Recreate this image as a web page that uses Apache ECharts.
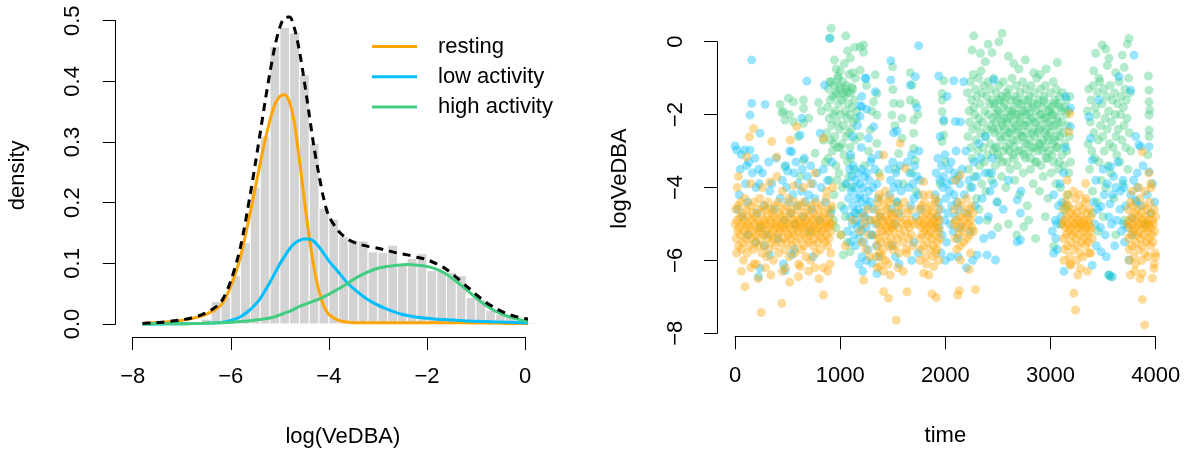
<!DOCTYPE html>
<html><head><meta charset="utf-8">
<script src="https://cdn.jsdelivr.net/npm/echarts@6/dist/echarts.min.js"></script>
<style>html,body{margin:0;padding:0;background:#fff}#c{width:1193px;height:450px}</style>
</head><body><div id="c"></div>
<script>
// ---------- left panel: histogram of log(VeDBA) ----------
const binWidth = 0.2;
const histStart = [-6.8,-6.6,-6.4,-6.2,-6.0,-5.8,-5.6,-5.4,-5.2,-5.0,-4.8,-4.6,-4.4,-4.2,-4.0,-3.8,-3.6,-3.4,-3.2,-3.0,-2.8,-2.6,-2.4,-2.2,-2.0,-1.8,-1.6,-1.4,-1.2,-1.0,-0.8,-0.6,-0.4,-0.2,0.0];
const histDensity = [0.003,0.008,0.037,0.045,0.080,0.134,0.226,0.310,0.458,0.489,0.480,0.411,0.298,0.191,0.173,0.144,0.138,0.137,0.119,0.118,0.130,0.100,0.108,0.116,0.088,0.087,0.085,0.080,0.044,0.040,0.023,0.016,0.012,0.006,0.002];

// density curves
const curveX = [-7.8,-7.6,-7.4,-7.2,-7.0,-6.8,-6.6,-6.4,-6.2,-6.0,-5.8,-5.6,
  -5.5,-5.4,-5.3,-5.2,-5.1,-5.0,-4.9,-4.8,-4.7,-4.6,-4.5,-4.4,-4.3,-4.2,-4.1,-4.0,
  -3.8,-3.6,-3.4,-3.2,-3.0,-2.8,-2.6,-2.4,-2.2,-2.0,-1.8,-1.6,-1.4,-1.2,-1.0,-0.8,-0.6,-0.4,-0.2,0.0,0.2,0.4,0.5];
const restingDens = [0.001,0.002,0.003,0.004,0.006,0.009,0.013,0.020,0.031,0.062,0.112,0.185,
  0.225,0.265,0.303,0.336,0.362,0.375,0.378,0.365,0.330,0.270,0.205,0.143,0.092,0.054,0.029,0.016,
  0.006,0.003,0.002,0.002,0.002,0.002,0.002,0.002,0.002,0.002,0.002,0.002,0.002,0.002,0.0015,0.0015,0.0015,0.001,0.001,0.001,0.001,0.001,0.001];
const lowDens = [0.0,0.0,0.0002,0.0003,0.0005,0.0007,0.001,0.0015,0.0025,0.006,0.012,0.024,
  0.032,0.042,0.055,0.069,0.084,0.099,0.112,0.124,0.133,0.138,0.140,0.140,0.136,0.127,0.116,0.104,
  0.085,0.066,0.052,0.040,0.031,0.024,0.018,0.014,0.011,0.0095,0.008,0.007,0.006,0.005,0.0045,0.004,0.0035,0.003,0.0025,0.002,0.0015,0.001,0.001];
const highDens = [0.0,0.0002,0.0003,0.0004,0.0005,0.0007,0.001,0.0015,0.002,0.003,0.004,0.0055,
  0.0065,0.0075,0.0085,0.010,0.012,0.015,0.018,0.021,0.025,0.029,0.032,0.035,0.038,0.041,0.045,0.049,
  0.058,0.068,0.078,0.086,0.092,0.095,0.097,0.098,0.097,0.095,0.090,0.082,0.070,0.057,0.043,0.031,0.021,0.014,0.009,0.0055,0.0035,0.002,0.0015];
const mixDens = [0.001,0.002,0.003,0.005,0.007,0.010,0.015,0.023,0.036,0.071,0.128,0.215,
  0.264,0.315,0.367,0.415,0.458,0.489,0.505,0.506,0.487,0.450,0.400,0.345,0.290,0.245,0.205,0.178,
  0.153,0.139,0.132,0.128,0.125,0.121,0.117,0.114,0.110,0.106,0.099,0.090,0.077,0.063,0.049,0.036,0.026,0.018,0.0125,0.009,0.006,0.004,0.0035];

const stateNames = ['resting','low activity','high activity'];

// ---------- right panel: logVeDBA over time, by state ----------
const restingPts = [
[0,-5.0],[5,-4.6],[10,-5.4],[15,-5.8],[20,-4.9],[25,-5.2],[30,-4.5],[35,-5.6],[40,-5.1],[45,-4.8],[50,-5.3],[55,-4.4],[60,-5.7],[65,-5.0],[70,-4.7],[75,-5.5],[80,-6.0],[85,-4.9],[90,-5.2],[95,-4.3],[100,-5.4],[105,-5.1],[110,-4.6],[115,-5.8],[120,-5.0],[125,-4.8],[130,-5.3],[135,-5.6],[140,-4.5],[145,-5.1],[150,-6.2],[155,-4.9],[160,-5.4],[165,-4.7],[170,-5.2],[175,-5.7],[180,-4.4],[185,-5.0],[190,-5.5],[195,-4.8],[200,-5.3],[205,-6.1],[210,-4.6],[215,-5.1],[220,-4.9],[225,-5.6],[230,-5.2],[235,-4.3],[240,-5.4],[245,-5.0],[250,-4.7],[255,-5.8],[260,-5.1],[265,-4.5],[270,-5.3],[275,-4.9],[280,-5.6],[285,-5.0],[290,-4.6],[295,-5.2],[300,-5.9],[305,-4.8],[310,-5.4],[315,-4.4],[320,-5.1],[325,-5.7],[330,-4.9],[335,-5.3],[340,-4.6],[345,-5.0],[350,-5.5],[355,-4.7],[360,-5.2],[365,-6.0],[370,-4.8],[375,-5.4],[380,-5.1],[385,-4.5],[390,-5.6],[395,-5.0],[400,-4.9],[405,-5.3],[410,-4.4],[415,-5.8],[420,-5.1],[425,-4.7],[430,-5.2],[435,-5.5],[440,-4.8],[445,-5.0],[450,-6.3],[455,-4.6],[460,-5.4],[465,-5.1],[470,-4.9],[475,-5.7],[480,-5.2],[485,-4.5],[490,-5.0],[495,-5.5],[500,-4.8],[505,-5.3],[510,-4.3],[515,-5.9],[520,-5.1],[525,-4.7],[530,-5.4],[535,-5.0],[540,-4.6],[545,-5.6],[550,-5.2],[555,-4.9],[560,-5.3],[565,-4.4],[570,-5.8],[575,-5.0],[580,-4.8],[585,-5.5],[590,-5.1],[595,-4.6],[600,-5.2],[605,-6.1],[610,-4.9],[615,-5.4],[620,-5.0],[625,-4.5],[630,-5.7],[635,-5.1],[640,-4.8],[645,-5.3],[650,-4.4],[655,-5.6],[660,-5.0],[665,-4.7],[670,-5.2],[675,-5.9],[680,-4.9],[685,-5.4],[690,-5.1],[695,-4.6],[700,-5.5],[705,-5.0],[710,-4.8],[715,-5.3],[720,-6.0],[725,-4.5],[730,-5.2],[735,-4.9],[740,-5.6],[745,-5.1],[750,-4.7],[755,-5.4],[760,-5.0],[765,-4.4],[770,-5.8],[775,-5.2],[780,-4.8],[785,-5.5],[790,-5.1],[795,-4.6],[800,-5.3],[805,-4.9],[810,-5.7],[815,-5.0],[820,-4.5],[825,-5.4],[830,-5.2],[835,-4.8],[840,-6.2],[845,-5.1],[850,-4.7],[855,-5.5],[860,-5.0],[865,-4.3],[870,-5.3],[875,-4.9],[880,-5.6],[885,-5.1],[890,-4.6],[895,-5.4],[900,-5.0],[905,-4.8],[910,-5.8],[915,-5.2],[920,-4.5],[925,-5.0],
[32,-3.7],[95,-6.72],[111,-3.16],[137,-2.61],[175,-2.38],[248,-7.43],[349,-2.74],[397,-3.16],[397,-3.7],[445,-7.18],[524,-2.7],[587,-2.33],[603,-6.45],[619,-6.17],[762,-3.6],[841,-2.65],[841,-6.95],
[60,-6.3],[180,-6.1],[220,-6.5],[290,-6.2],[340,-6.4],[480,-6.2],[520,-6.6],[700,-6.3],[760,-6.2],[800,-6.5],[880,-6.3],[905,-6.1],[20,-4.0],[150,-3.9],[260,-4.0],[330,-3.85],[450,-4.1],[560,-3.95],[650,-4.0],[720,-3.9],[870,-4.1],[930,-4.0],
[1005,-5.3],[1050,-5.6],[1120,-4.9],[1190,-5.2],[1205,-5.5],[1215,-4.8],[1222,-6.54],[1230,-5.0],[1245,-5.7],[1260,-4.6],[1270,-5.3],[1280,-5.9],[1290,-4.9],
[1335,-4.9],[1340,-5.3],[1345,-4.6],[1350,-5.6],[1355,-5.0],[1360,-4.4],[1365,-5.4],[1370,-4.8],[1375,-5.8],[1380,-5.1],[1385,-4.7],[1390,-5.5],[1395,-4.3],[1400,-5.2],[1405,-4.9],[1410,-5.7],[1415,-5.0],[1420,-4.5],[1425,-5.3],[1430,-6.0],[1435,-4.8],[1440,-5.1],[1445,-4.6],[1450,-5.5],[1455,-4.9],[1460,-5.2],[1465,-4.4],[1470,-5.6],[1475,-5.0],[1480,-4.7],[1485,-5.4],[1490,-5.1],[1495,-4.8],[1500,-5.7],[1505,-5.0],[1342,-5.9],[1368,-4.2],[1398,-5.9],[1428,-4.1],[1458,-6.1],[1478,-4.3],[1352,-6.2],[1412,-6.3],
[1413,-3.11],[1380,-3.7],[1413,-6.86],[1460,-7.04],[1533,-7.64],[1476,-6.4],[1380,-6.15],
[1510,-5.2],[1518,-4.7],[1525,-5.6],[1532,-4.9],[1540,-5.4],[1548,-4.5],[1555,-5.1],[1562,-5.8],[1570,-4.8],[1578,-5.3],[1585,-4.6],[1592,-5.0],[1600,-5.5],[1608,-4.4],[1615,-5.2],[1622,-4.9],[1630,-5.7],[1638,-5.0],[1645,-4.7],[1652,-5.4],[1660,-5.1],[1668,-4.6],[1675,-5.3],[1682,-4.9],[1690,-5.6],[1698,-5.0],
[1571,-2.79],[1619,-3.47],[1635,-5.8],[1635,-6.86],[1550,-6.2],[1600,-6.3],
[1746,-5.0],[1750,-4.6],[1755,-5.4],[1760,-4.9],[1765,-5.7],[1770,-5.1],[1775,-4.5],[1780,-5.3],[1785,-4.8],[1790,-5.6],[1795,-5.0],[1800,-4.4],[1805,-5.2],[1810,-5.9],[1815,-4.7],[1820,-5.1],[1825,-5.5],[1830,-4.9],[1835,-5.3],[1840,-4.6],[1845,-5.0],[1850,-5.7],[1855,-4.8],[1860,-5.2],[1865,-4.5],[1870,-5.4],[1875,-5.0],[1880,-4.7],[1885,-5.6],[1890,-5.1],[1895,-4.9],[1900,-5.3],[1905,-4.4],[1910,-5.8],[1915,-5.0],[1920,-4.8],[1925,-5.5],[1930,-5.1],[1935,-4.6],[1940,-5.2],[1945,-4.9],[1950,-5.4],[1758,-6.0],[1788,-4.2],[1818,-6.1],[1848,-4.2],[1878,-5.9],[1908,-4.3],[1938,-6.0],
[1794,-3.84],[1794,-6.35],[1842,-6.4],[1889,-6.17],[1873,-6.92],[1914,-7.02],[1920,-5.7],
[2080,-5.0],[2087,-4.6],[2094,-5.4],[2101,-4.9],[2108,-5.7],[2115,-5.1],[2122,-4.4],[2129,-5.3],[2136,-4.8],[2143,-5.6],[2150,-5.0],[2157,-4.5],[2164,-5.2],[2171,-4.9],[2178,-5.5],[2185,-4.7],[2192,-5.1],[2199,-4.3],[2206,-5.4],[2213,-4.8],[2220,-5.0],[2227,-4.6],[2234,-5.3],[2241,-4.9],[2248,-4.5],[2255,-5.1],[2262,-4.7],[2270,-5.2],
[2143,-3.66],[2118,-6.95],[2133,-6.83],[2143,-5.99],[2238,-5.8],[2225,-6.25],[2286,-6.8],[2100,-3.8],
[3115,-5.0],[3120,-4.6],[3125,-5.4],[3130,-4.9],[3135,-5.7],[3140,-5.1],[3145,-4.4],[3150,-5.3],[3155,-4.8],[3160,-5.6],[3165,-5.0],[3170,-4.5],[3175,-5.2],[3180,-5.9],[3185,-4.7],[3190,-5.1],[3195,-5.5],[3200,-4.9],[3205,-5.3],[3210,-4.6],[3215,-5.0],[3220,-5.7],[3225,-4.8],[3230,-5.2],[3235,-4.3],[3240,-5.4],[3245,-5.0],[3250,-4.7],[3255,-5.6],[3260,-5.1],[3265,-4.9],[3270,-5.3],[3275,-4.5],[3280,-5.8],[3285,-5.0],[3290,-4.8],[3295,-5.5],[3300,-5.1],[3305,-4.6],[3310,-5.2],[3315,-4.9],[3320,-5.4],[3325,-5.0],[3330,-4.4],[3335,-5.6],[3340,-5.1],[3345,-4.7],[3350,-5.3],[3355,-4.9],[3360,-5.5],[3365,-5.0],[3370,-4.6],[3375,-5.2],[3380,-5.8],[3385,-4.8],[3390,-5.1],[3395,-5.4],[3128,-6.0],[3158,-4.2],[3188,-6.1],[3218,-4.1],[3248,-6.0],[3278,-4.2],[3308,-5.9],[3338,-4.3],
[3222,-6.9],[3238,-7.36],[3190,-6.13],[3285,-6.22],[3333,-3.89],[3159,-3.8],[3175,-2.47],[3184,-1.97],[3365,-5.8],[3350,-6.3],[3260,-6.4],
[3730,-5.0],[3735,-4.6],[3740,-5.4],[3745,-4.9],[3750,-5.7],[3755,-5.1],[3760,-4.4],[3765,-5.3],[3770,-4.8],[3775,-5.6],[3780,-5.0],[3785,-4.5],[3790,-5.2],[3795,-5.9],[3800,-4.7],[3805,-5.1],[3810,-5.5],[3815,-4.9],[3820,-5.3],[3825,-4.6],[3830,-5.0],[3835,-5.7],[3840,-4.8],[3845,-5.2],[3850,-4.3],[3855,-5.4],[3860,-5.0],[3865,-4.7],[3870,-5.6],[3875,-5.1],[3880,-4.9],[3885,-5.3],[3890,-4.5],[3895,-5.8],[3900,-5.0],[3905,-4.8],[3910,-5.5],[3915,-5.1],[3920,-4.6],[3925,-5.2],[3930,-4.9],[3935,-5.4],[3940,-5.0],[3945,-4.4],[3950,-5.6],[3955,-5.1],[3960,-4.7],[3965,-5.3],[3970,-4.9],[3975,-5.5],[3980,-5.0],[3985,-4.6],[3990,-5.2],[3995,-5.8],[4000,-4.8],[3748,-6.0],[3778,-4.1],[3808,-6.1],[3838,-4.0],[3868,-6.0],[3898,-4.1],[3928,-5.9],[3958,-4.0],[3988,-6.1],
[3873,-7.07],[3895,-7.77],[3873,-6.36],[3968,-6.49],[3984,-6.22],[3873,-3.02],[3952,-3.89],[3936,-3.6],[3800,-6.3],[3760,-6.4],[4000,-5.9],[3850,-6.5]
];
const lowPts = [
[0,-2.86],[16,-2.97],[25,-4.6],[40,-4.2],[50,-3.5],[60,-3.1],[70,-4.8],[90,-2.97],[100,-3.9],[110,-3.4],[120,-4.4],[130,-3.3],[143,-2.01],[159,-1.69],[159,-0.5],[165,-3.6],[143,-2.97],[238,-2.51],[190,-3.2],[200,-4.0],[210,-4.7],[225,-3.5],[240,-5.1],[286,-1.72],[230,-3.9],[260,-3.6],[280,-4.5],[300,-5.3],[320,-3.3],[330,-4.1],[350,-3.9],[370,-4.6],[390,-3.2],[410,-5.4],[430,-4.3],[450,-3.8],[470,-4.9],[480,-3.4],[490,-4.0],[500,-3.55],[510,-4.4],[520,-3.0],[530,-4.7],[540,-3.02],[550,-4.2],[560,-3.6],[570,-5.0],[580,-3.3],[590,-4.5],[600,-3.9],[635,-2.1],[619,-2.56],[630,-4.1],[640,-3.5],[650,-4.8],[660,-3.2],[670,-4.4],[683,-1.08],[690,-3.7],[700,-4.2],[710,-5.2],[720,-3.4],[730,-4.6],[740,-3.9],[760,-4.3],[780,-3.6],[800,-4.9],[810,-2.51],[820,-4.0],[840,-3.5],[851,-1.19],[860,-4.4],[880,-3.8],[899,0.09],[910,-4.7],[920,-3.3],[238,-6.22],[222,-6.45],[476,-6.28],[540,-5.85],[330,-5.85],[460,-6.1],[560,-5.7],[740,-5.9],[280,-5.6],[200,-5.5],[120,-5.3],
[1040,-4.6],[1060,-3.9],[1070,-5.2],[1080,-4.3],[1090,-3.5],[1095,-4.8],[1100,-5.5],[1105,-4.1],[1110,-3.7],[1115,-5.0],[1120,-4.5],[1125,-3.4],[1130,-5.3],[1135,-4.7],[1140,-4.0],[1145,-5.6],[1150,-3.8],[1155,-4.9],[1160,-4.3],[1165,-5.1],[1170,-3.6],[1175,-4.6],[1180,-5.4],[1185,-4.2],[1190,-3.9],[1195,-5.0],[1200,-4.4],[1205,-3.5],[1210,-5.2],[1215,-4.7],[1220,-4.0],[1225,-5.5],[1230,-3.7],[1235,-4.8],[1240,-4.3],[1245,-1.0],[1250,-5.1],[1255,-3.6],[1260,-4.5],[1265,-5.7],[1270,-4.1],[1275,-3.8],[1280,-4.9],[1285,-4.4],[1290,-3.3],[1295,-5.3],[1180,-6.1],[1215,-6.3],[1250,-6.0],[1120,-2.6],[1165,-2.3],[1200,-2.9],[1100,-3.1],[1190,-1.76],[1205,-1.5],
[1300,-3.2],[1310,-4.0],[1320,-4.6],[1330,-3.5],[1340,-5.0],[1350,-3.9],[1360,-4.3],[1370,-3.1],[1380,-4.8],[1318,-2.33],[1333,-1.37],[1238,-1.0],[1206,-1.78],[1270,-2.65],[1253,-1.85],[1190,-2.05],[1305,-5.3],[1345,-5.6],[1365,-5.9],[1302,-6.08],[1349,-6.36],[1206,-5.9],
[1460,-3.5],[1470,-4.2],[1480,-3.8],[1490,-4.6],[1500,-3.3],[1510,-4.0],[1520,-5.0],[1530,-3.6],[1540,-4.4],[1550,-3.9],[1560,-4.7],[1570,-3.4],[1580,-4.1],[1482,-0.52],[1482,-1.05],[1508,-2.5],[1540,-2.45],[1495,-5.6],[1525,-5.9],[1560,-6.1],
[1640,-3.3],[1650,-4.0],[1660,-3.6],[1670,-4.5],[1680,-3.1],[1690,-3.9],[1700,-4.3],[1710,-3.4],[1720,-4.8],[1730,-3.7],[1740,-4.2],[1750,-3.0],[1760,-3.8],[1770,-4.6],[1746,-0.11],[1714,-0.96],[1667,-1.19],[1730,-1.8],[1700,-5.5],[1740,-5.8],[1680,-6.0],
[1905,-4.2],[1912,-3.6],[1920,-4.8],[1927,-3.2],[1934,-4.4],[1941,-5.1],[1948,-3.8],[1955,-4.6],[1962,-3.4],[1969,-5.3],[1976,-4.0],[1983,-3.7],[1990,-4.9],[1997,-3.1],[2004,-4.3],[2011,-5.5],[2018,-3.9],[2025,-4.7],[2032,-3.5],[2039,-4.1],[2046,-5.0],[2053,-3.3],[2060,-4.5],[2067,-3.8],[2074,-5.2],[2081,-4.2],[2088,-3.6],[2095,-4.8],[2102,-3.0],[2109,-4.4],[2116,-5.4],[2123,-3.7],[2130,-4.6],[2137,-3.9],[2144,-5.1],[1960,-5.8],[2000,-6.0],[2050,-5.9],[2120,-5.9],[1937,-0.94],[2080,-1.07],[1984,-2.15],[2095,-2.19],[2143,-2.2],[2016,-1.5],[1950,-2.6],
[2160,-3.5],[2175,-1.1],[2180,-4.2],[2195,-3.0],[2210,-4.7],[2225,-3.8],[2240,-5.2],[2255,-4.0],[2270,-3.3],[2285,-4.5],[2300,-3.7],[2302,-5.85],[2320,-4.9],[2335,-3.2],[2350,-4.3],[2365,-5.4],[2380,-3.6],[2397,-5.85],[2410,-4.8],[2425,-4.1],[2440,-5.3],[2460,-1.05],[2476,-5.99],[2490,-4.4],[2200,-6.2],[2260,-6.0],[2320,-2.8],[2380,-2.6],[2440,-3.6],
[2445,-3.2],[2460,-3.9],[2683,-4.34],[2683,-5.49],[2600,-3.8],[2720,-4.1],[2550,-4.6],[2714,-4.7],[2714,-5.44],
[3016,-5.2],[3030,-4.2],[3045,-4.9],[3060,-5.0],[3063,-5.7],[3075,-4.5],[3090,-3.9],[3100,-4.8],[3110,-4.4],[3127,-6.3],[3143,-1.51],[3190,-1.82],[3190,-2.33],[3125,-3.6],[3140,-2.9],[3050,-5.4],[3030,-5.8],
[3365,-2.06],[3381,-2.65],[3397,-3.25],[3397,-6.13],[3410,-4.4],[3420,-5.0],[3430,-3.8],[3450,-4.6],[3460,-1.6],[3476,-5.1],[3478,-4.52],[3480,-5.76],[3500,-3.5],[3510,-4.2],[3520,-5.3],[3540,-3.9],[3555,-4.8],[3565,-4.45],[3570,-3.43],[3580,-5.0],[3587,-6.45],[3555,-6.4],[3590,-4.2],[3600,-3.7],[3610,-5.6],[3620,-4.0],[3630,-4.9],[3640,-3.3],[3651,-0.96],[3660,-4.6],[3665,-4.1],[3675,-5.2],[3690,-3.8],[3695,-5.0],[3435,-5.6],[3530,-5.9],
[3705,-5.5],[3715,-4.5],[3730,-5.1],[3746,-5.99],[3762,-1.33],[3794,-0.37],[3762,-4.2],[3778,-4.85],[3790,-3.8],[3810,-2.6],[3810,-4.35],[3818,-4.4],[3825,-3.6],[3826,-4.0],[3840,-2.83],[3857,-2.88],[3860,-4.5],[3880,-3.4],[3900,-5.0],[3937,-2.88],[3937,-3.57],[3920,-4.2],[3950,-4.7],[3970,-3.9],[3990,-4.4],[3700,-4.0],[3780,-5.3]
];
const highPts = [
[429,-1.72],[445,-1.95],[460,-1.92],[476,-2.15],[476,-3.43],[508,-1.55],[520,-2.0],[556,-1.65],[556,-2.2],[600,-2.6],[651,-1.6],[651,-1.83],[651,-2.24],[651,-3.25],[700,-2.1],[762,-3.06],[794,-1.67],[820,-1.9],[840,-2.7],[860,-3.3],[620,-3.7],
[875,-2.5],[880,-1.8],[885,-3.2],[890,-1.3],[895,-2.1],[900,-3.8],[905,-1.6],[910,-2.7],[915,-1.1],[920,-2.3],[925,-3.0],[930,-1.5],[935,-2.0],[940,-4.2],[945,-1.2],[950,-2.6],[955,-1.9],[960,-3.4],[965,-1.4],[970,-2.2],[975,-2.9],[980,-1.0],[985,-1.7],[990,-3.6],[995,-2.4],[1000,-1.3],[1005,-2.0],[1010,-4.5],[1015,-1.6],[1020,-2.8],[1025,-1.1],[1030,-2.3],[1035,-3.1],[1040,-1.5],[1045,-1.9],[1050,-3.9],[1055,-2.6],[1060,-1.2],[1065,-2.1],[1070,-3.3],[1075,-1.7],[1080,-2.5],[1085,-0.9],[1090,-2.0],[1095,-2.9],[1100,-1.4],[1105,-2.4],[1110,-4.0],[1115,-1.8],[1120,-1.3],[1125,-2.2],[1130,-3.5],[1135,-1.6],[1140,-2.7],[1145,-1.0],[1150,-2.1],[1155,-4.7],[1160,-1.9],[900,-1.1],[920,-4.6],[960,-1.45],[990,-1.2],[1020,-4.0],[1050,-1.3],[1080,-3.7],[1110,-1.25],[940,-2.8],[970,-3.8],[1000,-2.9],[1030,-1.4],[1070,-1.4],[1100,-3.2],
[914,0.37],[905,0.1],[1054,0.16],[1070,-0.25],[1095,-0.45],[1140,-0.15],[1222,-0.09],[946,-0.5],[962,-0.75],[1000,-0.8],[1040,-0.6],[1120,-0.85],[980,-0.95],
[937,-4.9],[960,-5.1],[1010,-5.3],[1050,-4.8],[1095,-5.76],[1030,-5.85],[1070,-5.5],
[1190,-0.14],[1222,-0.29],[1190,-0.78],[1333,-0.91],[1349,-1.42],[1318,-1.65],[1349,-2.01],[1286,-2.42],[1190,-2.6],[1349,-2.79],[1250,-1.2],[1300,-1.9],[1270,-3.0],[1230,-3.4],[1370,-3.6],
[1498,-0.69],[1501,-1.31],[1508,-1.69],[1492,-2.01],[1587,-2.1],[1587,-2.65],[1556,-3.07],[1520,-2.3],[1530,-3.5],[1570,-1.7],[1600,-3.9],[1540,-4.4],
[1667,-0.85],[1683,-1.19],[1667,-1.6],[1714,-1.69],[1699,-2.15],[1699,-2.51],[1699,-2.93],[1714,-3.25],[1740,-2.0],[1680,-3.6],[1720,-4.1],
[1984,-1.07],[1969,-1.42],[1969,-1.6],[1969,-1.92],[1984,-2.19],[1984,-2.56],[1969,-2.74],[2000,-3.3],[1950,-3.9],
[2270,0.16],[2540,0.23],[2508,0.0],[2407,-0.07],[2254,-0.23],[2333,-0.32],[2444,-0.3],[2600,-0.4],[2380,-0.55],[2650,-0.6],[2700,-0.75],[2960,-0.75],[2840,-0.85],[3063,-0.57],[2900,-0.9],[2760,-0.5],
[2857,-5.4],[2746,-5.08],[2793,-4.9],[3031,-5.62],[2500,-5.1],[2400,-4.9],[2600,-5.0],[2950,-4.8],[3100,-5.0],[2320,-4.6],[3150,-4.5],[2680,-5.3],
[2210,-1.4],[2215,-2.6],[2220,-3.5],[2225,-1.9],[2230,-2.2],[2235,-4.0],[2240,-1.1],[2245,-2.9],[2250,-1.6],[2255,-3.2],[2260,-2.4],[2265,-0.9],[2270,-1.8],[2275,-3.7],[2280,-2.0],[2285,-1.3],[2290,-2.7],[2295,-4.3],[2300,-1.5],[2305,-2.3],[2310,-3.0],[2315,-1.0],[2320,-2.1],[2325,-3.4],[2330,-1.7],[2335,-2.5],[2340,-0.8],[2345,-3.9],[2350,-1.4],[2355,-2.2],[2360,-2.9],[2365,-1.2],[2370,-3.3],[2375,-1.9],[2380,-2.6],[2385,-4.1],[2390,-1.5],[2395,-2.4],[2400,-3.1],[2405,-1.1],[2410,-2.0],[2415,-3.6],[2420,-1.7],[2425,-2.8],[2430,-1.3],[2435,-2.3],[2440,-3.8],[2445,-1.6],[2450,-2.1],[2455,-3.0],[2460,-1.0],[2465,-2.5],[2470,-1.8],[2475,-3.4],[2480,-2.2],[2485,-1.4],[2490,-2.9],[2495,-4.4],[2500,-1.9],[2505,-2.4],[2510,-1.2],[2515,-3.2],[2520,-2.0],[2525,-1.6],[2530,-2.7],[2535,-3.7],[2540,-1.5],[2545,-2.3],[2550,-1.1],[2555,-3.0],[2560,-2.1],[2565,-1.7],[2570,-2.6],[2575,-4.0],[2580,-1.4],[2585,-2.2],[2590,-3.3],[2595,-1.9],[2600,-2.5],[2605,-1.3],[2610,-2.8],[2615,-3.5],[2620,-1.6],[2625,-2.0],[2630,-2.4],[2635,-1.0],[2640,-3.1],[2645,-2.2],[2650,-1.8],[2655,-2.9],[2660,-3.8],[2665,-1.5],[2670,-2.3],[2675,-1.2],[2680,-2.7],[2685,-3.4],[2690,-2.0],[2695,-1.7],[2700,-2.5],[2705,-4.2],[2710,-1.4],[2715,-2.1],[2720,-3.0],[2725,-1.9],[2730,-2.6],[2735,-1.1],[2740,-3.6],[2745,-2.3],[2750,-1.6],[2755,-2.8],[2760,-3.2],[2765,-1.3],[2770,-2.0],[2775,-2.5],[2780,-4.5],[2785,-1.8],[2790,-2.2],[2795,-3.0],[2800,-1.5],[2805,-2.7],[2810,-3.5],[2815,-1.2],[2820,-2.1],[2825,-2.9],[2830,-1.7],[2835,-3.9],[2840,-2.4],[2845,-1.4],[2850,-2.6],[2855,-3.3],[2860,-1.9],[2865,-2.2],[2870,-1.0],[2875,-3.0],[2880,-2.5],[2885,-1.6],[2890,-2.8],[2895,-4.1],[2900,-2.0],[2905,-1.3],[2910,-3.4],[2915,-2.3],[2920,-1.8],[2925,-2.7],[2930,-3.7],[2935,-1.5],[2940,-2.1],[2945,-2.9],[2950,-1.2],[2955,-3.2],[2960,-2.4],[2965,-1.7],[2970,-2.6],[2975,-4.3],[2980,-1.9],[2985,-2.2],[2990,-3.0],[2995,-1.4],[3000,-2.5],[3005,-3.6],[3010,-1.8],[3015,-2.0],[3020,-2.8],[3025,-1.1],[3030,-3.3],[3035,-2.3],[3040,-1.6],[3045,-2.7],[3050,-3.9],[3055,-1.3],[3060,-2.1],[3065,-2.9],[3070,-1.7],[3075,-3.5],[3080,-2.4],[3085,-1.5],[3090,-2.6],[3095,-4.0],[3100,-1.9],[3105,-2.2],[3110,-3.1],[3115,-1.4],[3120,-2.5],[3125,-3.4],[3130,-1.8],[3135,-2.8],[3140,-4.6],[3145,-2.0],[3150,-1.6],[3155,-3.0],[3160,-2.3],[3165,-4.2],[3170,-1.9],[3175,-3.6],[3180,-2.6],[3185,-1.5],[3190,-3.3],
[2452,-2.4],[2463,-1.7],[2474,-2.9],[2486,-2.0],[2497,-3.1],[2508,-1.6],[2519,-2.6],[2531,-2.2],[2542,-3.3],[2553,-1.8],[2564,-2.4],[2576,-2.9],[2587,-1.5],[2598,-2.1],[2609,-3.0],[2621,-2.5],[2632,-1.9],[2643,-2.7],[2654,-3.2],[2666,-2.0],[2677,-1.6],[2688,-2.4],[2699,-3.0],[2711,-2.2],[2722,-1.7],[2733,-2.6],[2744,-3.1],[2756,-1.9],[2767,-2.3],[2778,-2.8],[2789,-1.6],[2801,-2.0],[2812,-3.2],[2823,-2.5],[2834,-1.8],[2846,-2.2],[2857,-2.9],[2868,-3.3],[2879,-1.7],[2891,-2.4],[2902,-2.8],[2913,-2.0],[2924,-3.0],[2936,-1.6],[2947,-2.5],[2958,-2.1],[2969,-3.2],[2981,-2.7],[2992,-1.9],[3003,-2.3],[3014,-3.1],[3026,-2.0],[3037,-1.7],[3048,-2.6],[3059,-2.9],[3071,-2.2],[3082,-3.3],[3093,-1.8],
[3492,-0.09],[3524,-0.2],[3429,-0.32],[3730,-0.06],[3746,0.09],[3683,-0.37],[3555,-0.45],[3540,-0.65],[3410,-0.8],[3460,-1.0],[3620,-0.85],[3700,-0.7],
[3350,-1.9],[3357,-2.8],[3364,-1.3],[3371,-3.5],[3378,-2.2],[3385,-1.6],[3392,-3.0],[3399,-4.1],[3406,-1.2],[3413,-2.5],[3420,-3.2],[3427,-1.8],[3434,-2.0],[3441,-4.4],[3448,-1.4],[3455,-2.7],[3462,-3.3],[3469,-1.1],[3476,-2.3],[3483,-3.8],[3490,-1.7],[3497,-2.6],[3504,-1.3],[3511,-3.0],[3518,-2.1],[3525,-4.0],[3532,-1.5],[3539,-2.4],[3546,-3.4],[3553,-1.9],[3560,-2.8],[3567,-1.2],[3574,-3.6],[3581,-2.2],[3588,-1.6],[3595,-2.9],[3602,-4.3],[3609,-1.4],[3616,-2.0],[3623,-2.6],[3630,-3.1],[3637,-1.7],[3644,-2.4],[3651,-1.1],[3658,-3.3],[3665,-2.0],[3672,-1.5],[3679,-2.7],[3686,-3.9],[3693,-1.8],[3700,-2.3],[3707,-1.3],[3714,-2.9],[3721,-1.6],[3728,-2.1],[3735,-3.5],[3742,-1.0],[3749,-2.5],[3756,-1.4],[3763,-3.0],
[3555,-6.4],[3571,-6.45],[3450,-5.2],[3500,-4.8],[3620,-5.3],[3700,-4.9],[3400,-4.7],
[3930,-0.94],[3937,-1.33],[3937,-1.65],[3943,-1.87],[3937,-2.01],[3937,-2.42],[3937,-2.6],[3925,-3.1]
];

const colResting = '#FFA500', colLow = '#00BFFF', colHigh = '#43CD80';
const FONT = '"Liberation Sans", Arial, Helvetica, sans-serif';
const minus = v => String(v).replace('-', '\u2212');

function axisCommon(extra, namePad) {
  return Object.assign({
    type: 'value',
    axisLine: { show: true, onZero: false, lineStyle: { color: '#000', width: 1 } },
    axisTick: { show: true, length: 13, lineStyle: { color: '#000', width: 1 } },
    splitLine: { show: false },
    nameLocation: 'middle',
    nameTextStyle: { fontSize: 22, color: '#000', fontFamily: FONT, padding: namePad || 0 },
  }, extra);
}

const chart = echarts.init(document.getElementById('c'), null, { renderer: 'canvas' });
const toXY = (xs, ys) => xs.map((x, i) => [x, ys[i]]);
const lineSeries = (name, ys, color, dashed) => ({
  type: 'line', name: name, xAxisIndex: 0, yAxisIndex: 0,
  data: toXY(curveX, ys), smooth: 0.3, symbol: 'none', showSymbol: false, clip: false,
  lineStyle: { color: color, width: 3, type: dashed ? [8, 6] : 'solid', cap: 'butt' },
  itemStyle: { color: color }, z: dashed ? 5 : 4, silent: true
});
const scatterSeries = (name, pts, color) => ({
  type: 'scatter', name: name + ' pts', xAxisIndex: 1, yAxisIndex: 1,
  data: pts, symbol: 'circle', symbolSize: 9, clip: false, silent: true,
  itemStyle: { color: color, opacity: 0.4, borderWidth: 0 }
});

chart.setOption({
  animation: false,
  backgroundColor: '#fff',
  textStyle: { fontFamily: FONT },
  grid: [
    { left: 132.7, top: 20.7, width: 392.3, height: 303.3, outerBoundsMode: 'none', containLabel: false },
    { left: 735, top: 41.7, width: 420.7, height: 291.6, outerBoundsMode: 'none', containLabel: false }
  ],
  xAxis: [
    axisCommon({ gridIndex: 0, min: -8, max: 0, interval: 2, offset: 13, name: 'log(VeDBA)', nameGap: 89,
      axisLabel: { fontSize: 22, color: '#000', margin: 29, fontFamily: FONT, formatter: minus } }, [0, 0, 0, 28]),
    axisCommon({ gridIndex: 1, min: 0, max: 4000, interval: 1000, offset: 3, name: 'time', nameGap: 89,
      axisLabel: { fontSize: 22, color: '#000', margin: 29, fontFamily: FONT, formatter: minus } })
  ],
  yAxis: [
    axisCommon({ gridIndex: 0, min: 0, max: 0.5, interval: 0.1, offset: 17, name: 'density', nameGap: 87,
      axisLabel: { fontSize: 22, color: '#000', margin: 32, rotate: 90, fontFamily: FONT, formatter: v => v.toFixed(1) } }, [0, 6, 0, 0]),
    axisCommon({ gridIndex: 1, min: -8, max: 0, interval: 2, offset: 18, name: 'logVeDBA', nameGap: 86,
      axisLabel: { fontSize: 22, color: '#000', margin: 30, rotate: 90, fontFamily: FONT, formatter: minus } }, [0, 0, 0, 18])
  ],
  legend: {
    orient: 'vertical', left: 372, top: 35.5, padding: 0,
    itemWidth: 45, itemHeight: 3, itemGap: 8.3, icon: 'rect', selectedMode: false,
    data: stateNames,
    textStyle: { fontSize: 22, color: '#000', fontFamily: FONT, lineHeight: 20, padding: [0, 0, 0, 16] }
  },
  series: [
    {
      type: 'custom', name: 'hist', xAxisIndex: 0, yAxisIndex: 0, clip: false, silent: true, z: 2,
      data: histStart.map((s, i) => [s, s + binWidth, histDensity[i]]),
      encode: { x: [0, 1], y: 2 },
      renderItem: (params, api) => {
        const p0 = api.coord([api.value(0), api.value(2)]);
        const p1 = api.coord([api.value(1), 0]);
        return { type: 'rect', shape: { x: p0[0], y: p0[1], width: p1[0] - p0[0], height: p1[1] - p0[1] },
          style: { fill: '#D3D3D3', stroke: '#fff', lineWidth: 1 } };
      }
    },
    lineSeries(stateNames[0], restingDens, colResting, false),
    lineSeries(stateNames[1], lowDens, colLow, false),
    lineSeries(stateNames[2], highDens, colHigh, false),
    lineSeries('mixture', mixDens, '#000', true),
    scatterSeries(stateNames[2], highPts, colHigh),
    scatterSeries(stateNames[1], lowPts, colLow),
    scatterSeries(stateNames[0], restingPts, colResting)
  ]
});
</script></body></html>
